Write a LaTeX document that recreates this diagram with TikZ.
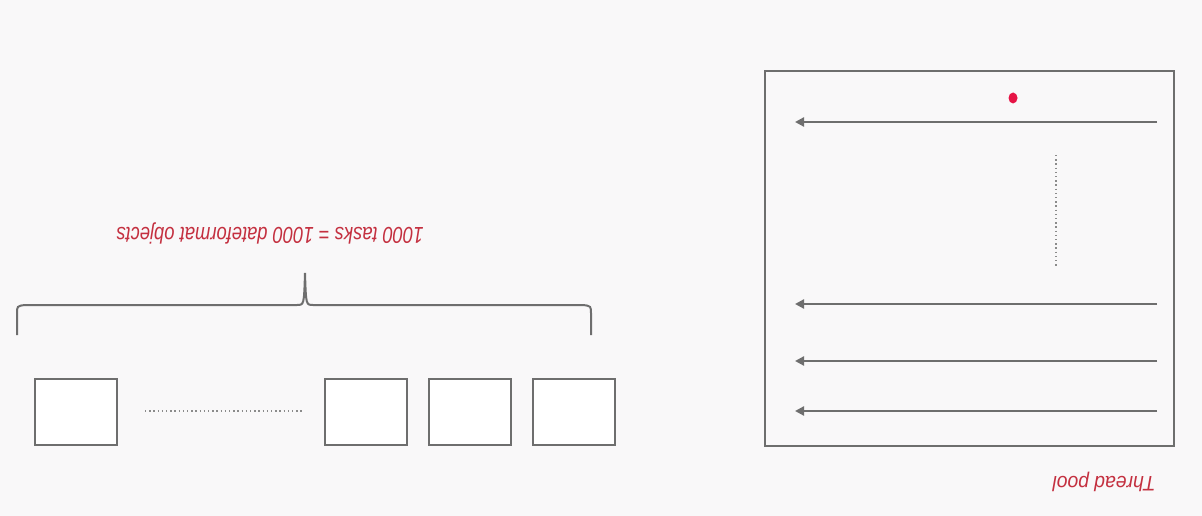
\documentclass[tikz,border=0pt]{standalone}
\usepackage{fontspec}
\setmainfont{Liberation Sans}
\usetikzlibrary{arrows.meta}
\definecolor{bg}{RGB}{249,248,249}
\definecolor{ln}{RGB}{110,110,110}
\definecolor{redtxt}{RGB}{196,48,64}
\definecolor{dotred}{RGB}{230,20,70}
\tikzset{
  taskbox/.style={draw=ln, line width=2pt, fill=white, minimum width=82pt, minimum height=66pt, inner sep=0pt, anchor=north west},
  thread/.style={draw=ln, line width=2.2pt, -{Triangle[length=9pt,width=9pt]}},
  lbl/.style={text=redtxt, font=\itshape, rotate=180, inner sep=0pt},
  dots/.style={draw=ln!80, line width=1.4pt, dash pattern=on 1.4pt off 2.8pt}
}
\begin{document}
\begin{tikzpicture}[x=1pt,y=-1pt]
\fill[bg] (0,0) rectangle (1202,516);
\useasboundingbox (0,0) rectangle (1202,516);
% thread pool
\node[draw=ln, line width=2pt, minimum width=409pt, minimum height=375pt, anchor=north west, inner sep=0pt] (pool) at (764,70) {};
\foreach \y/\n in {122/a,304/b,361/c,411/d}{
  \coordinate (s\n) at (1157,\y);
  \coordinate (e\n) at (795,\y);
  \draw[thread] (s\n) -- (e\n);
}
\fill[dotred] (1013,98) ellipse (4.5pt and 5.5pt);
\coordinate (v1) at (1056,155);
\coordinate (v2) at (1056,266);
\draw[dots] (v1) -- (v2);
\node[lbl, font=\itshape\fontsize{21}{25}\selectfont, xscale=0.92] (tp) at (1104,482) {Thread pool};
% tasks
\node[taskbox] (t1) at (34,378) {};
\node[taskbox] (t2) at (324,378) {};
\node[taskbox] (t3) at (428,378) {};
\node[taskbox] (t4) at (532,378) {};
\coordinate (h1) at (145,411);
\coordinate (h2) at (302,411);
\draw[dots] (h1) -- (h2);
% brace
\draw[ln, line width=2pt] (17,335) -- (17,314) .. controls (17,306) .. (25,305) -- (297,305) .. controls (304,305) .. (305,273)
  .. controls (306,305) .. (313,305) -- (583,305) .. controls (591,306) .. (591,314) -- (591,335);
\node[lbl, font=\itshape\fontsize{23}{27}\selectfont, xscale=0.8] (cap) at (270,233) {1000 tasks = 1000 dateformat objects};
\end{tikzpicture}
\end{document}
